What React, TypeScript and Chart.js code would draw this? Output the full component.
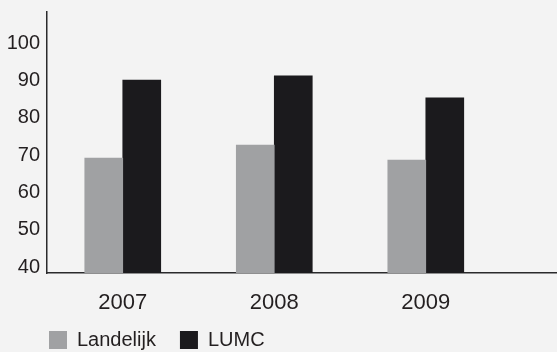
import { useEffect, useRef } from "react";
import { Chart, registerables } from "chart.js";

Chart.register(...registerables);

// Yearly scores per group
const years = ["2007", "2008", "2009"];
const landelijk = [69.2, 72.7, 68.7];
const lumc = [90.1, 91.2, 85.3];
const yTickValues = [40, 50, 60, 70, 80, 90, 100];

const FONT = "'Liberation Sans', Arial, Helvetica, sans-serif";
const TEXT = "#231f20";
const AXIS = "#2a2a2c";

// Square-swatch legend drawn below the axis, starting at the y axis
const swatchLegend = {
  id: "swatchLegend",
  afterDraw(chart: any) {
    const { ctx, chartArea } = chart;
    const box = 18;
    const gapText = 10;
    const gapItem = 24;
    const top = chart.height - 21;
    let x = chartArea.left + 2;
    ctx.save();
    ctx.font = `20px ${FONT}`;
    ctx.textBaseline = "middle";
    ctx.textAlign = "left";
    chart.data.datasets.forEach((ds: any) => {
      ctx.fillStyle = ds.backgroundColor;
      ctx.fillRect(x, top, box, box);
      ctx.fillStyle = TEXT;
      ctx.fillText(ds.label, x + box + gapText, top + box / 2);
      x += box + gapText + ctx.measureText(ds.label).width + gapItem;
    });
    ctx.restore();
  },
};

export default function App() {
  const ref = useRef<HTMLCanvasElement | null>(null);

  useEffect(() => {
    if (!ref.current) return;
    const chart = new Chart(ref.current, {
      type: "bar",
      data: {
        datasets: [
          {
            label: "Landelijk",
            data: landelijk.map((v, i) => ({ x: i, y: v })),
            backgroundColor: "#a0a1a3",
            borderWidth: 0,
            barThickness: 38,
          },
          {
            label: "LUMC",
            data: lumc.map((v, i) => ({ x: i, y: v })),
            backgroundColor: "#1b1a1d",
            borderWidth: 0,
            barThickness: 38,
          },
        ],
      },
      options: {
        animation: false,
        responsive: false,
        devicePixelRatio: 1,
        layout: { padding: { left: 7, top: 12, right: 0, bottom: 36 } },
        scales: {
          x: {
            type: "linear",
            offset: false,
            min: -0.5,
            max: 2.866,
            grid: { display: false, drawTicks: false },
            border: { display: true, color: AXIS, width: 1.5 },
            afterBuildTicks: (s: any) => {
              s.ticks = years.map((_, i) => ({ value: i }));
            },
            afterFit: (s: any) => {
              s.height = 43;
            },
            ticks: {
              padding: 17,
              color: TEXT,
              font: { family: FONT, size: 22 },
              callback: (v: any) => years[Math.round(Number(v))] ?? "",
            },
          },
          y: {
            type: "linear",
            beginAtZero: false,
            min: 38.45,
            max: 108.3,
            grid: { display: false, drawTicks: false },
            border: { display: true, color: AXIS, width: 1.5 },
            afterBuildTicks: (s: any) => {
              s.ticks = yTickValues.map((v) => ({ value: v }));
            },
            afterFit: (s: any) => {
              s.width = 40;
            },
            ticks: {
              padding: 7,
              color: TEXT,
              font: { family: FONT, size: 20, lineHeight: 0.5 },
            },
          },
        },
        plugins: {
          tooltip: { enabled: false },
          legend: { display: false },
        },
      },
      plugins: [swatchLegend],
    });
    return () => chart.destroy();
  }, []);

  return (
    <div
      style={{
        position: "fixed",
        left: 0,
        top: 0,
        width: 557,
        height: 352,
        overflow: "hidden",
        background: "#f3f3f3",
      }}
    >
      <canvas ref={ref} width={557} height={352} style={{ display: "block" }} />
    </div>
  );
}
